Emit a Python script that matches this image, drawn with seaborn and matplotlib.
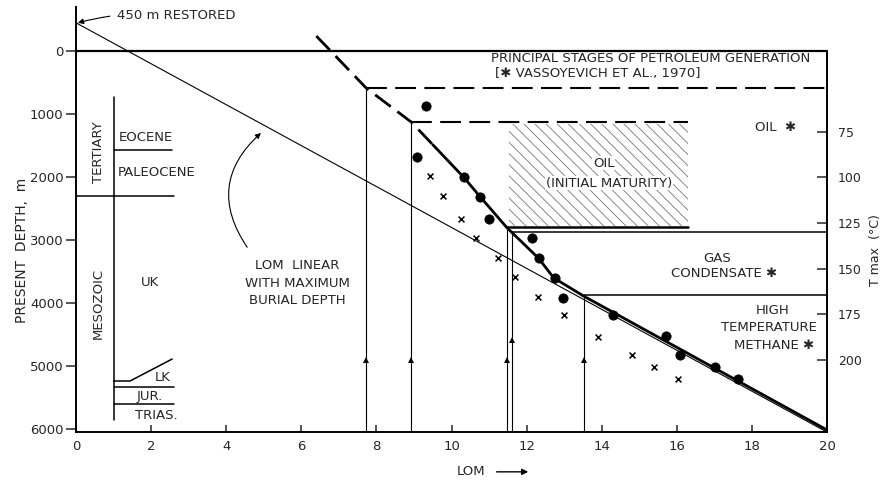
import matplotlib
matplotlib.use("Agg")
import matplotlib.pyplot as plt
import seaborn as sns
from matplotlib.patches import Rectangle, FancyArrowPatch

# LOM vs present depth (m)
dot_lom = [9.31, 9.09, 10.32, 10.77, 11.01, 12.13, 12.32, 12.75, 12.96, 14.29, 15.71, 16.08, 17.01, 17.63]
dot_depth = [873, 1683, 2000, 2317, 2667, 2968, 3286, 3603, 3921, 4190, 4524, 4825, 5016, 5206]
cross_lom = [9.44, 9.76, 10.24, 10.64, 11.23, 11.68, 12.29, 12.99, 13.89, 14.80, 15.39, 16.03]
cross_depth = [1984, 2302, 2667, 2968, 3286, 3587, 3905, 4190, 4540, 4825, 5016, 5206]

curve_dash_lom = [6.4, 7.73, 8.93, 9.5]
curve_dash_depth = [-240, 587, 1127, 1485]
curve_lom = [9.5, 10.32, 10.77, 11.47, 12.32, 12.72, 13.52, 20.0]
curve_depth = [1485, 2000, 2317, 2800, 3290, 3600, 3890, 6016]

linear_lom = [0, 20]
linear_depth = [-450, 6050]

# stage thresholds (LOM) and the depth where each vertical stops
stage_lom = [7.73, 8.93, 11.47, 11.6, 13.52]
stage_depth = [587, 1127, 2800, 2870, 3870]
arrow_depth = [4905, 4905, 4905, 4587, 4905]

# stratigraphic column
eocene_base = 1571
tertiary_base = 2302
lk_top_lom = [1.0, 1.44, 2.56]
lk_top_depth = [5238, 5238, 4889]
jur_top = 5333
trias_top = 5603

tmax_ticks = [75, 100, 125, 150, 175, 200]


def t_to_depth(t):
    return 3090 + (t - 137.5) * 28.95


def depth_to_t(d):
    return 137.5 + (d - 3090) / 28.95


sns.set_theme(style="white")
plt.rcParams["font.family"] = ["DejaVu Sans"]
plt.rcParams["hatch.linewidth"] = 0.6

fig = plt.figure(figsize=(8.85, 4.8), dpi=100)
ax = fig.add_axes([0.0859, 0.10, 0.8486, 0.885])

fs = 9.5
k = "black"

# main curves and points
sns.lineplot(x=linear_lom, y=linear_depth, ax=ax, color=k, lw=0.8, sort=False, estimator=None)
sns.lineplot(x=curve_dash_lom, y=curve_dash_depth, ax=ax, color=k, lw=2.0, sort=False,
             estimator=None)
ax.lines[-1].set_dashes((7, 3))
sns.lineplot(x=curve_lom, y=curve_depth, ax=ax, color=k, lw=2.0, sort=False, estimator=None)
sns.scatterplot(x=dot_lom, y=dot_depth, ax=ax, color=k, s=45, marker="o", edgecolor=k, zorder=5)
sns.scatterplot(x=cross_lom, y=cross_depth, ax=ax, color=k, s=18, marker="x", linewidth=1.1, zorder=5)

# zero line
ax.plot([0, 20], [0, 0], color=k, lw=1.6)

# stage verticals with arrow heads
for xl, top, ad in zip(stage_lom, stage_depth, arrow_depth):
    ax.plot([xl, xl], [6050, top], color=k, lw=0.8)
    ax.plot([xl], [ad], marker="^", color=k, ms=5, mew=0)

# stage boundaries
ax.plot([7.73, 20], [587, 587], color=k, lw=1.5, dashes=(10, 4))
ax.plot([8.93, 16.3], [1127, 1127], color=k, lw=1.5, dashes=(10, 4))
hatch_box = Rectangle((11.52, 1150), 16.3 - 11.52, 2780 - 1150, facecolor="none",
                      edgecolor="#777777", hatch="\\\\\\", lw=0.01, zorder=0.5)
ax.add_patch(hatch_box)
ax.plot([11.47, 16.3], [2790, 2790], color=k, lw=1.8)
ax.plot([11.6, 20], [2870, 2870], color=k, lw=1.1)
ax.plot([13.52, 20], [3870, 3870], color=k, lw=1.1)

# stratigraphic column
ax.plot([1, 1], [730, 5857], color=k, lw=1.1)
ax.plot([1, 2.56], [eocene_base, eocene_base], color=k, lw=1.1)
ax.plot([0, 2.6], [tertiary_base, tertiary_base], color=k, lw=1.1)
ax.plot(lk_top_lom, lk_top_depth, color=k, lw=1.1)
ax.plot([1, 2.6], [jur_top, jur_top], color=k, lw=1.1)
ax.plot([1, 2.6], [trias_top, trias_top], color=k, lw=1.1)

ax.text(1.15, 1365, "EOCENE", fontsize=fs, ha="left", va="center")
ax.text(1.1, 1920, "PALEOCENE", fontsize=fs, ha="left", va="center")
ax.text(0.59, 1600, "TERTIARY", fontsize=fs, rotation=90, ha="center", va="center")
ax.text(0.59, 4000, "MESOZOIC", fontsize=fs, rotation=90, ha="center", va="center")
ax.text(1.97, 3670, "UK", fontsize=fs, ha="center", va="center")
ax.text(2.32, 5190, "LK", fontsize=fs, ha="center", va="center")
ax.text(1.97, 5480, "JUR.", fontsize=fs, ha="center", va="center")
ax.text(2.15, 5790, "TRIAS.", fontsize=fs, ha="center", va="center")

# annotations
ax.annotate("450 m RESTORED", xy=(0.05, -450), xytext=(1.1, -560), fontsize=fs,
            ha="left", va="center",
            arrowprops=dict(arrowstyle="-|>", lw=0.8, color=k, mutation_scale=8,
                            connectionstyle="arc3,rad=0.1", shrinkA=3, shrinkB=0))
ax.text(11.05, 111, "PRINCIPAL STAGES OF PETROLEUM GENERATION", fontsize=fs,
        ha="left", va="center")
ax.text(11.15, 350, "[✱ VASSOYEVICH ET AL., 1970]", fontsize=fs, ha="left", va="center")
ax.text(18.64, 1206, "OIL  ✱", fontsize=fs, ha="center", va="center")
ax.text(14.05, 1778, "OIL", fontsize=fs, ha="center", va="center",
        bbox=dict(fc="white", ec="none", pad=0.5))
ax.text(14.2, 2095, "(INITIAL MATURITY)", fontsize=fs, ha="center", va="center",
        bbox=dict(fc="white", ec="none", pad=0.5))
ax.text(17.07, 3286, "GAS", fontsize=fs, ha="center", va="center")
ax.text(17.25, 3524, "CONDENSATE ✱", fontsize=fs, ha="center", va="center")
ax.text(18.56, 4111, "HIGH", fontsize=fs, ha="center", va="center")
ax.text(18.45, 4381, "TEMPERATURE", fontsize=fs, ha="center", va="center")
ax.text(18.59, 4667, "METHANE ✱", fontsize=fs, ha="center", va="center")
ax.text(5.9, 3397, "LOM  LINEAR", fontsize=fs, ha="center", va="center")
ax.text(5.9, 3683, "WITH MAXIMUM", fontsize=fs, ha="center", va="center")
ax.text(5.9, 3952, "BURIAL DEPTH", fontsize=fs, ha="center", va="center")
ax.add_patch(FancyArrowPatch((4.6, 3150), (4.98, 1270), arrowstyle="-|>", mutation_scale=8,
                             lw=0.8, color=k, connectionstyle="arc3,rad=-0.45"))

# axes
ax.set_xlim(0, 20)
ax.set_ylim(6048, -698)
ax.set_xticks(range(0, 21, 2))
ax.set_yticks(range(0, 6001, 1000))
ax.tick_params(axis="x", direction="in", length=5, width=1.1, labelsize=fs, pad=6, bottom=True)
ax.tick_params(axis="y", direction="out", length=7, width=1.1, labelsize=fs, pad=2, left=True)
for side in ["left", "bottom", "right"]:
    ax.spines[side].set_color(k)
    ax.spines[side].set_linewidth(1.4)
ax.spines["top"].set_visible(False)
ax.spines["right"].set_bounds(0, 6048)
ax.set_xlabel("")
ax.set_ylabel("")

sec = ax.secondary_yaxis("right", functions=(depth_to_t, t_to_depth))
sec.set_yticks(tmax_ticks)
sec.tick_params(direction="in", length=7, width=1.1, labelsize=9, pad=8, right=True)
sec.spines["right"].set_visible(False)

fig.text(0.025, 0.479, "PRESENT  DEPTH,  m", rotation=90, fontsize=10, ha="center", va="center")
fig.text(0.989, 0.479, "T max  (°C)", rotation=90, fontsize=9, ha="center", va="center")
fig.text(0.532, 0.017, "LOM", fontsize=fs, ha="center", va="center")
fig.patches.append(FancyArrowPatch((0.558, 0.017), (0.6, 0.017), transform=fig.transFigure,
                                   arrowstyle="-|>", mutation_scale=9, lw=1.0, color=k))

fig.savefig("out.png", dpi=100)
